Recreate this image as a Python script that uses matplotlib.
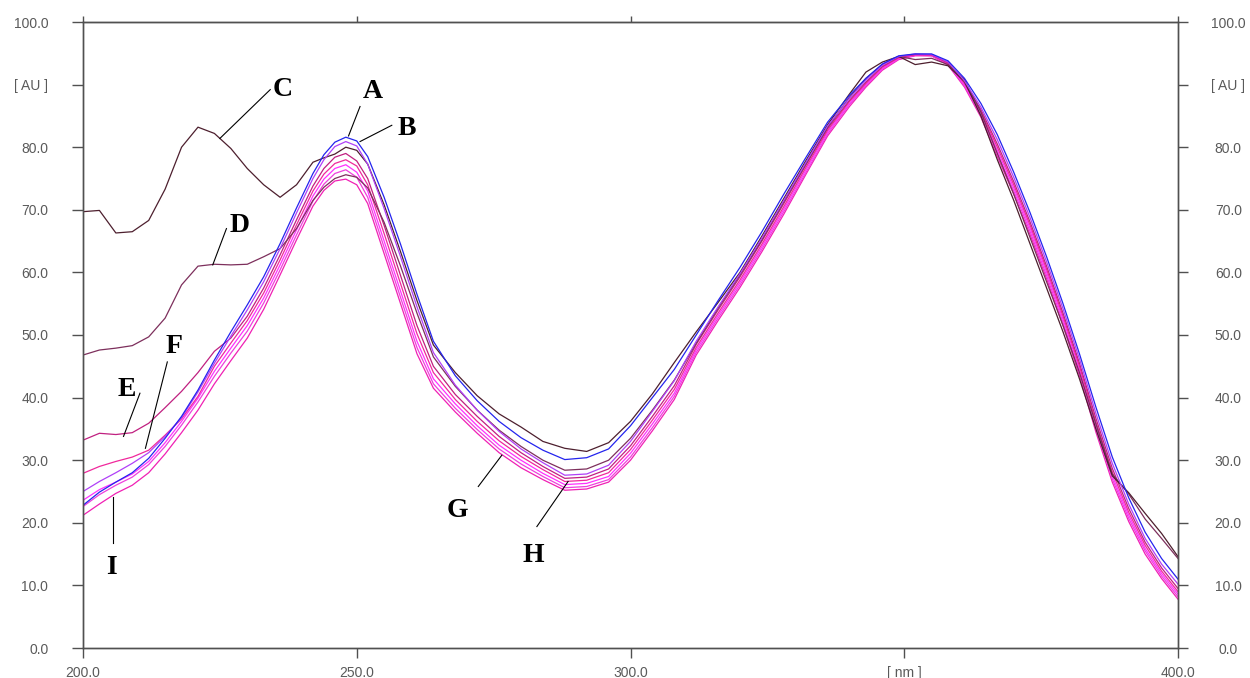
import matplotlib.pyplot as plt

# wavelength grid (nm) shared by all spectra
WL = [200, 203, 206, 209, 212, 215, 218, 221, 224, 227, 230, 233, 236, 239, 242,
      244, 246, 248, 250, 252, 255, 258, 261, 264,
      268, 272, 276, 280, 284, 288, 292, 296, 300, 304, 308, 312, 316, 320, 324, 328, 332, 336, 340,
      343, 346, 349, 352, 355, 358, 361, 364, 367, 370, 373, 376, 379, 382, 385, 388, 391, 394, 397, 400]

SPEC_A = [22.8, 24.9, 26.5, 28.0, 30.3, 33.5, 37.0, 41.2, 46.0, 50.5, 54.8, 59.3, 64.6, 70.3, 75.8,
          78.8, 80.8, 81.6, 81.0, 78.5, 72.0, 64.5, 56.5, 49.0,
          43.5, 39.5, 36.2, 33.6, 31.6, 30.1, 30.4, 31.8, 35.5, 40.0, 44.5, 50.0, 55.5, 60.8, 66.5, 72.5, 78.3, 84.0, 88.3,
          91.0, 93.3, 94.6, 94.9, 94.9, 93.8, 91.0, 87.0, 82.0, 76.0, 69.5, 62.5, 55.0, 47.0, 38.5, 30.5, 24.0, 18.5, 14.3, 11.0]
SPEC_B = [25.0, 26.6, 28.0, 29.5, 31.2, 33.8, 36.8, 40.9, 45.5, 49.8, 54.0, 58.5, 63.8, 69.5, 75.0,
          78.0, 80.1, 80.9, 80.2, 77.3, 70.2, 62.5, 54.5, 47.2,
          42.0, 38.0, 34.6, 31.8, 29.6, 27.6, 27.8, 29.2, 33.0, 37.8, 42.7, 49.0, 54.5, 59.8, 65.5, 71.5, 77.5, 83.4, 87.8,
          90.7, 93.1, 94.5, 94.9, 94.8, 93.6, 90.6, 86.4, 81.2, 75.2, 68.7, 61.7, 54.2, 46.2, 37.5, 29.5, 23.0, 17.5, 13.4, 10.2]
SPEC_C = [69.7, 69.9, 66.3, 66.5, 68.3, 73.3, 80.0, 83.2, 82.2, 79.8, 76.6, 74.0, 72.0, 74.0, 77.6,
          78.3, 78.9, 80.0, 79.5, 77.3, 70.8, 63.3, 55.5, 48.4,
          44.0, 40.3, 37.4, 35.3, 33.0, 31.9, 31.4, 32.8, 36.2, 40.6, 45.6, 50.5, 55.2, 60.0, 65.8, 71.8, 77.8, 83.6, 88.5,
          92.0, 93.6, 94.5, 93.2, 93.6, 93.0, 90.5, 85.0, 78.0, 71.5, 64.5, 57.5, 50.5, 43.0, 35.0, 27.5, 24.8, 21.5, 18.3, 14.6]
SPEC_D = [46.8, 47.6, 47.9, 48.3, 49.7, 52.7, 58.0, 61.0, 61.3, 61.2, 61.3, 62.5, 63.8, 67.0, 71.5,
          73.6, 75.0, 75.6, 75.2, 73.5, 68.0, 61.0, 53.5, 46.5,
          41.8, 38.0, 34.8, 32.2, 30.0, 28.4, 28.6, 30.0, 33.5, 38.0, 42.8, 48.7, 54.3, 59.6, 65.2, 71.3, 77.3, 83.2, 88.0,
          91.0, 93.2, 94.5, 94.0, 94.2, 93.2, 90.8, 85.6, 79.0, 72.5, 65.5, 58.5, 51.5, 44.0, 35.8, 27.8, 24.6, 20.6, 17.5, 14.3]
SPEC_E = [33.2, 34.3, 34.1, 34.4, 35.9, 38.4, 41.0, 44.0, 47.4, 49.5, 53.0, 57.5, 62.8, 68.4, 73.8,
          76.6, 78.4, 79.0, 77.8, 75.0, 67.5, 59.5, 51.5, 45.0,
          40.5, 37.0, 33.8, 31.2, 29.0, 27.1, 27.3, 28.6, 32.3, 37.0, 41.9, 48.5, 54.0, 59.3, 65.0, 71.0, 77.1, 83.0, 87.5,
          90.4, 92.9, 94.4, 94.8, 94.8, 93.5, 90.4, 86.0, 80.5, 74.5, 68.0, 61.0, 53.5, 45.5, 36.7, 28.7, 22.3, 16.9, 12.8, 9.5]
SPEC_F = [27.9, 29.0, 29.8, 30.5, 31.6, 34.0, 36.6, 40.2, 45.0, 48.7, 52.3, 56.7, 62.0, 67.6, 73.0,
          75.7, 77.4, 78.0, 77.0, 74.0, 66.2, 58.2, 50.2, 44.0,
          39.7, 36.2, 33.1, 30.6, 28.5, 26.6, 26.8, 28.0, 31.7, 36.4, 41.3, 48.0, 53.5, 58.8, 64.5, 70.5, 76.7, 82.7, 87.3,
          90.2, 92.8, 94.3, 94.8, 94.7, 93.4, 90.2, 85.7, 80.0, 74.0, 67.5, 60.5, 53.0, 45.0, 36.1, 28.1, 21.7, 16.4, 12.3, 9.0]
SPEC_G = [23.6, 25.3, 26.5, 27.8, 29.8, 32.8, 36.2, 39.9, 44.2, 47.9, 51.5, 55.9, 61.2, 66.8, 72.2,
          74.9, 76.6, 77.2, 76.0, 73.0, 65.0, 57.0, 49.0, 43.0,
          39.0, 35.5, 32.4, 30.0, 27.9, 26.1, 26.3, 27.4, 31.1, 35.8, 40.7, 47.6, 53.1, 58.4, 64.1, 70.1, 76.3, 82.4, 87.0,
          90.0, 92.6, 94.2, 94.7, 94.7, 93.3, 90.0, 85.4, 79.5, 73.5, 67.0, 60.0, 52.5, 44.5, 35.5, 27.5, 21.2, 15.9, 11.9, 8.6]
SPEC_H = [22.6, 24.5, 26.0, 27.3, 29.3, 32.2, 35.6, 39.3, 43.4, 47.1, 50.6, 55.1, 60.4, 66.0, 71.4,
          74.1, 75.8, 76.4, 75.2, 72.0, 64.0, 56.0, 48.0, 42.2,
          38.3, 34.9, 31.8, 29.4, 27.4, 25.6, 25.8, 26.9, 30.5, 35.2, 40.2, 47.2, 52.7, 58.0, 63.7, 69.7, 75.9, 82.1, 86.8,
          89.8, 92.5, 94.1, 94.7, 94.6, 93.2, 89.8, 85.1, 79.0, 73.0, 66.5, 59.5, 52.0, 44.0, 35.0, 27.0, 20.7, 15.5, 11.5, 8.2]
SPEC_I = [21.2, 23.0, 24.7, 26.0, 28.0, 31.0, 34.4, 38.0, 42.2, 45.9, 49.5, 54.1, 59.6, 65.2, 70.6,
          73.1, 74.6, 74.9, 74.0, 71.0, 63.0, 55.0, 47.0, 41.5,
          37.7, 34.3, 31.2, 28.8, 26.9, 25.2, 25.4, 26.5, 30.0, 34.7, 39.7, 46.8, 52.3, 57.6, 63.3, 69.3, 75.6, 81.8, 86.5,
          89.6, 92.3, 94.0, 94.6, 94.6, 93.1, 89.6, 84.8, 78.5, 72.5, 66.0, 59.0, 51.5, 43.5, 34.5, 26.5, 20.2, 15.0, 11.1, 7.8]

X_TICKS = [200, 250, 300, 350, 400]
X_LABELS = ["200.0", "250.0", "300.0", "[ nm ]", "400.0"]
Y_TICKS = [0, 10, 20, 30, 40, 50, 60, 70, 80, 90, 100]
Y_LABELS = ["0.0", "10.0", "20.0", "30.0", "40.0", "50.0", "60.0", "70.0", "80.0", "[ AU ]", "100.0"]

# drawing order: pinks first, blue on top
SERIES = [
    ("I", SPEC_I, "#f020b4"),
    ("H", SPEC_H, "#ee40dc"),
    ("G", SPEC_G, "#ff30ff"),
    ("F", SPEC_F, "#f0289c"),
    ("E", SPEC_E, "#c02080"),
    ("D", SPEC_D, "#7d2f5c"),
    ("C", SPEC_C, "#4d1f2e"),
    ("B", SPEC_B, "#b040f8"),
    ("A", SPEC_A, "#2424ee"),
]

# letter position (baseline) and pointer line ends, in data units
LABELS = {
    "C": ((236.4, 88.1), (234.2, 89.2), (225.0, 81.4)),
    "A": ((252.9, 87.8), (250.6, 86.5), (248.5, 81.8)),
    "B": ((259.1, 82.0), (256.4, 83.5), (250.6, 80.9)),
    "D": ((228.6, 66.5), (226.2, 67.0), (223.7, 61.2)),
    "E": ((207.9, 40.3), (210.4, 40.7), (207.4, 33.8)),
    "F": ((216.6, 47.1), (215.4, 45.7), (211.4, 31.9)),
    "I": ((205.2, 11.9), (205.4, 16.7), (205.4, 24.2)),
    "G": ((268.4, 21.0), (272.2, 25.8), (276.5, 30.8)),
    "H": ((282.2, 13.8), (282.9, 19.4), (288.6, 26.6)),
}

AXIS_C = "#505050"
TEXT_C = "#5a5a5a"


def main():
    plt.rcParams["font.family"] = ["Liberation Sans", "DejaVu Sans"]
    fig = plt.figure(figsize=(12.5, 6.78), dpi=100)
    ax = fig.add_axes([83 / 1250, 30 / 678, 1095 / 1250, 626 / 678])

    for name, ys, col in SERIES:
        ax.plot(WL, ys, color=col, lw=0.9, solid_joinstyle="round")

    for name, (txt, p0, p1) in LABELS.items():
        ax.plot([p0[0], p1[0]], [p0[1], p1[1]], color="black", lw=0.8)
        ax.text(txt[0], txt[1], name, ha="center", va="baseline",
                fontsize=20, fontweight="bold", family="Liberation Serif", color="black")

    ax.set_xlim(200, 400)
    ax.set_ylim(0, 100)
    ax.set_xticks(X_TICKS, X_LABELS)
    ax.set_yticks(Y_TICKS, Y_LABELS)
    for sp in ax.spines.values():
        sp.set_color(AXIS_C)
        sp.set_linewidth(1.0)
    ax.tick_params(axis="x", direction="out", length=7.2, width=1, color=AXIS_C,
                   labelsize=10, labelcolor=TEXT_C, pad=5.5)
    ax.tick_params(axis="y", direction="out", length=8, width=1, color=AXIS_C,
                   labelsize=10, labelcolor=TEXT_C, pad=17)

    top = ax.secondary_xaxis("top")
    top.set_xticks(X_TICKS)
    top.tick_params(direction="out", length=4.5, width=1, color=AXIS_C, labeltop=False)
    top.spines["top"].set_color(AXIS_C)

    right = ax.twinx()
    right.set_ylim(0, 100)
    right.set_yticks(Y_TICKS, Y_LABELS)
    right.tick_params(axis="y", direction="out", length=7.2, width=1, color=AXIS_C,
                      labelsize=10, labelcolor=TEXT_C, pad=29)
    for lab in right.get_yticklabels():
        lab.set_horizontalalignment("center")
    for sp in right.spines.values():
        sp.set_color(AXIS_C)
        sp.set_linewidth(1.0)

    fig.savefig("out.png", dpi=100)


if __name__ == "__main__":
    main()
